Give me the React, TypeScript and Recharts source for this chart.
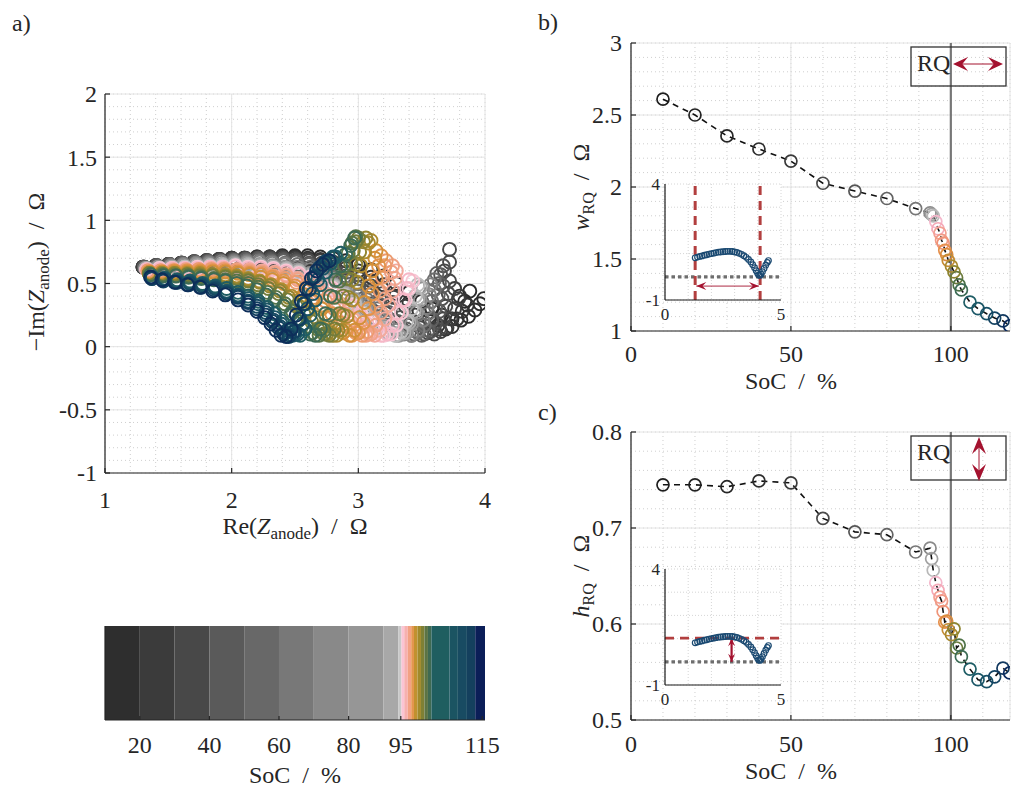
import React from "react";
import { ScatterChart, Scatter, BarChart, Bar, XAxis, YAxis, CartesianGrid, ReferenceLine } from "recharts";

const FONT = '"Liberation Serif", "Times New Roman", serif';
const AX = "#262626";
const CRIMSON = "#a4122f";

// ---------- a) Nyquist spectra, one list of [Re, -Im] per SoC ----------
const nyqSoc = [10, 20, 30, 40, 50, 60, 70, 80, 89, 93.5, 94, 95.3, 96, 97.1, 97.6, 98.1, 98.7, 99.2, 100.2, 101, 101.8, 102.6, 103.3, 106, 108.5, 111.2, 113.7, 118.4];
const nyq10 = [[1.30,0.63],[1.40,0.64],[1.50,0.65],[1.60,0.66],[1.70,0.67],[1.80,0.68],[1.90,0.69],[2.00,0.70],[2.10,0.70],[2.20,0.71],[2.30,0.71],[2.40,0.72],[2.50,0.72],[2.60,0.72],[2.70,0.71],[2.80,0.70],[2.90,0.68],[3.00,0.65],[3.10,0.61],[3.20,0.56],[3.30,0.50],[3.40,0.43],[3.50,0.36],[3.58,0.30],[3.66,0.25],[3.74,0.22],[3.81,0.21],[3.87,0.24],[3.92,0.29],[3.96,0.34],[3.99,0.38],[3.88,0.44],[3.84,0.36]];
const nyq20 = [[1.30,0.63],[1.40,0.64],[1.50,0.65],[1.60,0.66],[1.70,0.67],[1.80,0.68],[1.90,0.69],[2.00,0.70],[2.10,0.70],[2.20,0.71],[2.30,0.71],[2.40,0.71],[2.50,0.71],[2.60,0.70],[2.70,0.69],[2.80,0.67],[2.90,0.64],[3.00,0.60],[3.10,0.55],[3.20,0.49],[3.30,0.42],[3.40,0.35],[3.48,0.28],[3.56,0.22],[3.63,0.17],[3.69,0.14],[3.74,0.16],[3.78,0.22],[3.82,0.28],[3.86,0.33],[3.80,0.40]];
const nyq30 = [[1.30,0.63],[1.40,0.64],[1.50,0.65],[1.60,0.66],[1.70,0.67],[1.80,0.68],[1.90,0.69],[2.00,0.70],[2.10,0.70],[2.20,0.70],[2.30,0.71],[2.40,0.71],[2.50,0.70],[2.60,0.69],[2.70,0.68],[2.80,0.65],[2.90,0.62],[3.00,0.57],[3.10,0.52],[3.19,0.46],[3.28,0.39],[3.37,0.32],[3.45,0.25],[3.52,0.19],[3.59,0.14],[3.65,0.12],[3.70,0.15],[3.73,0.22],[3.76,0.30],[3.79,0.38],[3.76,0.46]];
const nyq40 = [[1.31,0.63],[1.41,0.64],[1.51,0.65],[1.61,0.66],[1.71,0.67],[1.81,0.68],[1.91,0.69],[2.01,0.69],[2.11,0.70],[2.21,0.70],[2.31,0.70],[2.41,0.70],[2.51,0.69],[2.61,0.68],[2.71,0.66],[2.81,0.63],[2.91,0.59],[3.01,0.54],[3.10,0.48],[3.19,0.42],[3.27,0.35],[3.35,0.28],[3.42,0.21],[3.49,0.15],[3.55,0.11],[3.60,0.10],[3.64,0.14],[3.67,0.22],[3.69,0.32],[3.71,0.42],[3.72,0.52],[3.68,0.60],[3.72,0.67],[3.72,0.77]];
const nyq50 = [[1.31,0.63],[1.41,0.64],[1.51,0.65],[1.61,0.66],[1.71,0.67],[1.81,0.68],[1.91,0.68],[2.01,0.69],[2.11,0.69],[2.21,0.70],[2.31,0.69],[2.41,0.69],[2.51,0.68],[2.61,0.66],[2.71,0.64],[2.81,0.60],[2.90,0.56],[3.00,0.50],[3.09,0.44],[3.17,0.37],[3.25,0.30],[3.33,0.23],[3.40,0.17],[3.46,0.12],[3.52,0.10],[3.57,0.12],[3.61,0.19],[3.64,0.28],[3.66,0.38],[3.67,0.48],[3.65,0.57],[3.67,0.64]];
const nyq60 = [[1.31,0.63],[1.41,0.64],[1.51,0.65],[1.61,0.66],[1.71,0.67],[1.81,0.67],[1.91,0.68],[2.01,0.68],[2.11,0.69],[2.21,0.69],[2.31,0.68],[2.41,0.68],[2.51,0.67],[2.61,0.65],[2.71,0.62],[2.81,0.58],[2.90,0.53],[2.99,0.47],[3.08,0.41],[3.16,0.34],[3.24,0.27],[3.31,0.20],[3.38,0.14],[3.44,0.10],[3.50,0.09],[3.55,0.13],[3.58,0.21],[3.61,0.31],[3.63,0.41],[3.64,0.50],[3.62,0.58]];
const nyq70 = [[1.32,0.62],[1.42,0.63],[1.52,0.64],[1.62,0.65],[1.72,0.66],[1.82,0.67],[1.92,0.67],[2.02,0.68],[2.12,0.68],[2.22,0.68],[2.32,0.67],[2.42,0.66],[2.52,0.65],[2.62,0.63],[2.72,0.60],[2.81,0.55],[2.90,0.50],[2.99,0.44],[3.07,0.37],[3.15,0.30],[3.23,0.23],[3.30,0.17],[3.36,0.12],[3.42,0.09],[3.47,0.11],[3.52,0.17],[3.55,0.26],[3.58,0.36],[3.60,0.45],[3.60,0.53]];
const nyq80 = [[1.32,0.62],[1.42,0.63],[1.52,0.64],[1.62,0.65],[1.72,0.66],[1.82,0.66],[1.92,0.67],[2.02,0.67],[2.12,0.67],[2.22,0.67],[2.32,0.66],[2.42,0.65],[2.52,0.63],[2.62,0.61],[2.72,0.57],[2.82,0.52],[2.91,0.46],[3.00,0.40],[3.08,0.33],[3.16,0.26],[3.23,0.19],[3.30,0.13],[3.36,0.10],[3.42,0.09],[3.47,0.13],[3.51,0.21],[3.54,0.31],[3.56,0.41],[3.57,0.49]];
const nyq89 = [[1.32,0.62],[1.42,0.63],[1.52,0.63],[1.62,0.64],[1.72,0.65],[1.82,0.65],[1.92,0.65],[2.02,0.66],[2.12,0.66],[2.22,0.65],[2.32,0.64],[2.42,0.63],[2.52,0.61],[2.62,0.58],[2.72,0.54],[2.81,0.49],[2.90,0.43],[2.98,0.37],[3.06,0.30],[3.13,0.23],[3.20,0.16],[3.26,0.11],[3.32,0.09],[3.38,0.11],[3.42,0.18],[3.46,0.27],[3.49,0.37],[3.51,0.46]];
const nyq93 = [[1.33,0.62],[1.43,0.62],[1.53,0.63],[1.63,0.63],[1.73,0.64],[1.83,0.64],[1.93,0.65],[2.03,0.65],[2.13,0.65],[2.23,0.64],[2.33,0.63],[2.43,0.62],[2.53,0.60],[2.63,0.57],[2.72,0.53],[2.81,0.48],[2.89,0.42],[2.97,0.36],[3.05,0.29],[3.12,0.22],[3.18,0.15],[3.24,0.11],[3.30,0.09],[3.36,0.11],[3.40,0.19],[3.44,0.28],[3.47,0.38],[3.49,0.47]];
const nyq94 = [[1.33,0.61],[1.43,0.62],[1.53,0.62],[1.63,0.63],[1.73,0.63],[1.83,0.64],[1.93,0.64],[2.03,0.64],[2.13,0.64],[2.23,0.63],[2.33,0.62],[2.43,0.61],[2.53,0.59],[2.63,0.56],[2.72,0.52],[2.81,0.47],[2.89,0.41],[2.97,0.34],[3.04,0.27],[3.11,0.20],[3.17,0.14],[3.23,0.10],[3.29,0.09],[3.34,0.12],[3.38,0.20],[3.42,0.30],[3.45,0.40],[3.47,0.49]];
const nyq95 = [[1.33,0.61],[1.43,0.62],[1.53,0.62],[1.63,0.62],[1.73,0.63],[1.83,0.63],[1.93,0.63],[2.03,0.64],[2.13,0.63],[2.23,0.63],[2.33,0.62],[2.43,0.60],[2.53,0.58],[2.62,0.55],[2.71,0.51],[2.80,0.46],[2.88,0.40],[2.95,0.33],[3.02,0.26],[3.09,0.19],[3.15,0.13],[3.20,0.09],[3.26,0.10],[3.30,0.17],[3.34,0.27],[3.37,0.37],[3.40,0.46],[3.43,0.52]];
const nyq96 = [[1.33,0.61],[1.43,0.61],[1.53,0.62],[1.63,0.62],[1.73,0.62],[1.83,0.63],[1.93,0.63],[2.03,0.63],[2.13,0.62],[2.23,0.62],[2.33,0.61],[2.43,0.59],[2.53,0.57],[2.62,0.54],[2.71,0.50],[2.79,0.45],[2.87,0.39],[2.94,0.32],[3.01,0.25],[3.07,0.18],[3.13,0.12],[3.18,0.09],[3.23,0.10],[3.27,0.17],[3.31,0.27],[3.35,0.37],[3.38,0.46],[3.40,0.53]];
const nyq97 = [[1.34,0.60],[1.44,0.60],[1.54,0.61],[1.64,0.61],[1.74,0.61],[1.84,0.62],[1.94,0.62],[2.04,0.61],[2.14,0.61],[2.24,0.60],[2.34,0.59],[2.43,0.57],[2.52,0.54],[2.61,0.51],[2.69,0.46],[2.77,0.41],[2.84,0.35],[2.91,0.28],[2.97,0.21],[3.03,0.15],[3.08,0.10],[3.13,0.09],[3.17,0.13],[3.21,0.22],[3.24,0.33],[3.27,0.44],[3.29,0.54],[3.30,0.60]];
const nyq97b = [[1.34,0.60],[1.44,0.60],[1.54,0.60],[1.64,0.61],[1.74,0.61],[1.84,0.61],[1.94,0.61],[2.04,0.61],[2.14,0.60],[2.24,0.59],[2.34,0.58],[2.43,0.56],[2.52,0.53],[2.60,0.49],[2.68,0.44],[2.76,0.39],[2.83,0.33],[2.89,0.26],[2.95,0.19],[3.01,0.13],[3.06,0.09],[3.10,0.10],[3.14,0.17],[3.18,0.27],[3.21,0.38],[3.24,0.49],[3.26,0.59],[3.27,0.64]];
const nyq98 = [[1.34,0.60],[1.44,0.60],[1.54,0.60],[1.64,0.60],[1.74,0.61],[1.84,0.61],[1.94,0.61],[2.04,0.60],[2.14,0.59],[2.24,0.58],[2.33,0.56],[2.42,0.54],[2.51,0.51],[2.59,0.47],[2.67,0.42],[2.74,0.36],[2.81,0.30],[2.87,0.23],[2.93,0.16],[2.98,0.11],[3.03,0.09],[3.07,0.12],[3.11,0.21],[3.14,0.32],[3.17,0.44],[3.19,0.55],[3.21,0.64],[3.22,0.68]];
const nyq98b = [[1.35,0.59],[1.45,0.59],[1.55,0.60],[1.65,0.60],[1.75,0.60],[1.85,0.60],[1.95,0.60],[2.05,0.59],[2.14,0.58],[2.23,0.57],[2.32,0.55],[2.41,0.52],[2.50,0.48],[2.58,0.44],[2.65,0.39],[2.72,0.33],[2.79,0.26],[2.85,0.19],[2.90,0.13],[2.95,0.09],[3.00,0.11],[3.04,0.19],[3.08,0.30],[3.11,0.42],[3.14,0.54],[3.16,0.64],[3.18,0.72]];
const nyq99 = [[1.35,0.59],[1.45,0.59],[1.55,0.59],[1.65,0.59],[1.75,0.59],[1.85,0.59],[1.95,0.59],[2.05,0.58],[2.14,0.57],[2.23,0.55],[2.32,0.53],[2.41,0.50],[2.49,0.46],[2.57,0.41],[2.64,0.36],[2.71,0.30],[2.77,0.23],[2.83,0.16],[2.88,0.11],[2.93,0.09],[2.97,0.13],[3.01,0.23],[3.05,0.35],[3.08,0.48],[3.11,0.60],[3.13,0.70],[3.14,0.76]];
const nyq100 = [[1.35,0.58],[1.45,0.58],[1.55,0.58],[1.65,0.58],[1.75,0.58],[1.85,0.57],[1.95,0.57],[2.04,0.56],[2.13,0.54],[2.22,0.52],[2.31,0.49],[2.39,0.45],[2.47,0.40],[2.54,0.35],[2.61,0.29],[2.67,0.23],[2.73,0.16],[2.78,0.11],[2.83,0.09],[2.87,0.13],[2.91,0.24],[2.95,0.37],[2.99,0.51],[3.02,0.64],[3.05,0.75],[3.08,0.82],[3.10,0.84]];
const nyq101 = [[1.35,0.58],[1.45,0.58],[1.55,0.58],[1.65,0.57],[1.75,0.57],[1.85,0.57],[1.95,0.56],[2.04,0.55],[2.13,0.53],[2.22,0.51],[2.30,0.48],[2.38,0.44],[2.45,0.39],[2.52,0.33],[2.59,0.27],[2.65,0.21],[2.70,0.15],[2.75,0.10],[2.80,0.09],[2.84,0.13],[2.88,0.25],[2.92,0.39],[2.95,0.53],[2.98,0.65],[3.01,0.75],[3.04,0.83],[3.06,0.86]];
const nyq101b = [[1.35,0.58],[1.45,0.57],[1.55,0.57],[1.65,0.57],[1.75,0.56],[1.85,0.56],[1.95,0.55],[2.04,0.54],[2.13,0.52],[2.21,0.49],[2.29,0.46],[2.37,0.42],[2.44,0.37],[2.51,0.32],[2.57,0.26],[2.63,0.20],[2.68,0.14],[2.73,0.10],[2.77,0.09],[2.81,0.14],[2.85,0.26],[2.88,0.40],[2.91,0.54],[2.94,0.66],[2.96,0.76],[2.98,0.83],[3.00,0.86]];
const nyq102 = [[1.36,0.57],[1.46,0.57],[1.56,0.56],[1.66,0.56],[1.76,0.55],[1.86,0.54],[1.95,0.53],[2.04,0.52],[2.13,0.50],[2.21,0.47],[2.28,0.43],[2.35,0.39],[2.42,0.34],[2.48,0.28],[2.54,0.22],[2.59,0.16],[2.64,0.11],[2.69,0.09],[2.73,0.13],[2.77,0.25],[2.81,0.39],[2.85,0.52],[2.89,0.64],[2.92,0.74],[2.95,0.82],[2.98,0.87]];
const nyq103 = [[1.36,0.57],[1.46,0.56],[1.56,0.56],[1.66,0.55],[1.76,0.54],[1.86,0.53],[1.95,0.52],[2.04,0.50],[2.12,0.48],[2.20,0.45],[2.27,0.41],[2.34,0.37],[2.41,0.32],[2.47,0.26],[2.52,0.20],[2.57,0.14],[2.62,0.10],[2.66,0.09],[2.70,0.14],[2.74,0.26],[2.78,0.40],[2.82,0.53],[2.86,0.64],[2.90,0.73],[2.94,0.80],[2.97,0.86]];
const nyq106 = [[1.37,0.55],[1.47,0.54],[1.57,0.53],[1.67,0.52],[1.77,0.50],[1.87,0.48],[1.96,0.46],[2.05,0.43],[2.13,0.40],[2.21,0.36],[2.28,0.31],[2.34,0.26],[2.40,0.20],[2.45,0.14],[2.50,0.10],[2.54,0.09],[2.58,0.14],[2.62,0.25],[2.66,0.37],[2.70,0.49],[2.74,0.59],[2.78,0.66],[2.82,0.71],[2.86,0.74]];
const nyq108 = [[1.37,0.55],[1.47,0.54],[1.57,0.52],[1.67,0.51],[1.77,0.49],[1.87,0.47],[1.96,0.44],[2.05,0.41],[2.13,0.38],[2.21,0.34],[2.28,0.29],[2.34,0.23],[2.39,0.18],[2.44,0.13],[2.48,0.09],[2.52,0.10],[2.56,0.18],[2.60,0.30],[2.64,0.42],[2.68,0.53],[2.72,0.62],[2.76,0.68],[2.80,0.71]];
const nyq111 = [[1.37,0.54],[1.47,0.53],[1.57,0.51],[1.67,0.50],[1.77,0.48],[1.87,0.46],[1.96,0.43],[2.05,0.40],[2.13,0.36],[2.20,0.32],[2.27,0.27],[2.33,0.21],[2.38,0.16],[2.42,0.11],[2.46,0.09],[2.50,0.12],[2.54,0.22],[2.58,0.34],[2.62,0.46],[2.66,0.56],[2.70,0.63],[2.74,0.67]];
const nyq113 = [[1.37,0.54],[1.46,0.52],[1.56,0.51],[1.66,0.49],[1.76,0.47],[1.86,0.45],[1.96,0.42],[2.05,0.39],[2.13,0.35],[2.20,0.30],[2.27,0.25],[2.32,0.20],[2.37,0.15],[2.41,0.10],[2.45,0.08],[2.49,0.12],[2.53,0.22],[2.57,0.34],[2.61,0.45],[2.65,0.55],[2.69,0.62],[2.74,0.67]];
const nyq118 = [[1.36,0.55],[1.45,0.53],[1.55,0.51],[1.65,0.49],[1.75,0.47],[1.85,0.44],[1.95,0.41],[2.05,0.37],[2.13,0.33],[2.20,0.28],[2.26,0.23],[2.31,0.18],[2.35,0.13],[2.39,0.09],[2.43,0.08],[2.47,0.14],[2.51,0.25],[2.55,0.36],[2.59,0.46],[2.63,0.54],[2.67,0.60],[2.72,0.65],[2.77,0.68]];
const nyqCurves = [nyq10, nyq20, nyq30, nyq40, nyq50, nyq60, nyq70, nyq80, nyq89, nyq93, nyq94, nyq95, nyq96, nyq97, nyq97b, nyq98, nyq98b, nyq99, nyq100, nyq101, nyq101b, nyq102, nyq103, nyq106, nyq108, nyq111, nyq113, nyq118];
const nyqColors = ["#2b2b2b","#333333","#3d3d3d","#474747","#525252","#5e5e5e","#6e6e6e","#808080","#939393","#a8a8a8","#bcbcbc","#f8c8d6","#f6b7c6","#f3a99c","#f0a286","#ec9b70","#e2944c","#d39038","#ae8b2e","#938530","#747c3a","#567448","#3d6b55","#1f5d63","#1b5566","#174b63","#12405f","#0d2e5a"];

// ---------- b) / c) RQ width and height over SoC ----------
const socValues = [10,20,30,40,50,60,70,80,89,93.5,94,94.5,95.3,96,96.6,97.1,97.6,98.1,98.7,99.2,100.2,101,101.8,102.6,103.3,106,108.5,111.2,113.7,116.3,118.4];
const wValues = [2.61,2.50,2.355,2.264,2.18,2.026,1.972,1.92,1.85,1.82,1.81,1.80,1.76,1.71,1.68,1.63,1.61,1.56,1.53,1.49,1.45,1.41,1.37,1.32,1.285,1.20,1.155,1.12,1.09,1.07,1.035];
const hValues = [0.745,0.745,0.743,0.749,0.747,0.710,0.696,0.693,0.675,0.679,0.668,0.656,0.643,0.635,0.628,0.624,0.613,0.602,0.603,0.594,0.589,0.595,0.575,0.578,0.566,0.553,0.542,0.540,0.545,0.554,0.549];
const markerColors = ["#1e1e1e","#222222","#262626","#2e2e2e","#3a3a3a","#4a4a4a","#555555","#636363","#777777","#8a8a8a","#a0a0a0","#b8b8b8","#f5b8cc","#f5aab8","#f3a193","#f19a86","#ef9478","#e6904c","#d98c3e","#c58c33","#a8892f","#8d8430","#6b7a3c","#4e7248","#3c6b55","#1f5e66","#1b5767","#175066","#134362","#10375e","#0b2a5e"];

// ---------- insets: one example spectrum ----------
const insetSpectrum = [[1.30,0.82],[1.40,0.85],[1.50,0.88],[1.60,0.90],[1.70,0.93],[1.80,0.95],[1.90,0.98],[2.00,1.00],[2.10,1.02],[2.20,1.04],[2.30,1.06],[2.40,1.07],[2.50,1.08],[2.60,1.09],[2.70,1.10],[2.80,1.10],[2.90,1.09],[3.00,1.07],[3.10,1.05],[3.20,1.01],[3.30,0.97],[3.40,0.91],[3.50,0.84],[3.60,0.75],[3.70,0.64],[3.78,0.52],[3.86,0.39],[3.93,0.26],[3.99,0.15],[4.04,0.08],[4.09,0.06],[4.14,0.11],[4.20,0.22],[4.27,0.36],[4.34,0.50],[4.41,0.62],[4.46,0.70]];
const insetWidthBounds = [1.3, 4.1];
const insetHeightLevel = 1.02;
const insetPeakRe = 2.87;

// ---------- colour bar ----------
const cbEdges = [10,20,30,40,50,60,70,80,90,94.3,95.2,96,97,98,98.8,99.8,100.8,101.8,102.8,103.8,109,111.4,114,116.4,119.2];
const cbColors = ["#2e2e2e","#3b3b3b","#484848","#5a5a5a","#686868","#787878","#898989","#969696","#a8a8a8","#c8c8c8","#fbc4d4","#f6b0b0","#f2a183","#e3964e","#c1912f","#a08a2c","#7f8034","#5c7444","#3f6a52","#1f5e60","#1b5462","#184b62","#14405e","#0b1e58"];
const cbTicks = [20, 40, 60, 80, 95, 118.4];
const cbTickLabels = ["20", "40", "60", "80", "95", "115"];

const axLine = { stroke: AX, strokeWidth: 1.2 };
const pairs = (a: number[][]) => a.map(([x, y]) => ({ x, y }));
const range = (a: number, b: number, s: number) => {
  const out: number[] = [];
  for (let v = a; v <= b + 1e-9; v += s) out.push(Math.round(v * 1000) / 1000);
  return out;
};

// tick label renderer (serif, fixed size)
const mkTick = (size: number, dy: string, fmt?: (v: number, i: number) => string) => (p: any) => (
  <text x={p.x} y={p.y} dy={dy} textAnchor={p.textAnchor} fontFamily={FONT} fontSize={size} fill={AX}>
    {fmt ? fmt(p.payload.value, p.index) : String(p.payload.value)}
  </text>
);
const blank = () => <g />;

function frame(o: { xd: number[]; yd: number[]; xt: number[]; yt: number[]; xm: number[]; ym: number[]; xh: number; yw: number; xMargin: number; yMargin: number }) {
  return [
    <CartesianGrid key="gm" xAxisId="xm" yAxisId="ym" stroke="#cfcfcf" strokeDasharray="1 3" />,
    <CartesianGrid key="g" xAxisId="x" yAxisId="y" stroke="#e4e4e4" />,
    <XAxis key="xm" xAxisId="xm" type="number" dataKey="x" domain={o.xd} ticks={o.xm} interval={0} allowDataOverflow hide />,
    <YAxis key="ym" yAxisId="ym" type="number" dataKey="y" domain={o.yd} ticks={o.ym} interval={0} allowDataOverflow hide />,
    <XAxis key="x" xAxisId="x" type="number" dataKey="x" domain={o.xd} ticks={o.xt} interval={0} allowDataOverflow height={o.xh} tickSize={-5} tickMargin={o.xMargin} axisLine={axLine} tickLine={axLine} tick={mkTick(24, "0.71em")} />,
    <XAxis key="xt" xAxisId="xt" orientation="top" type="number" domain={o.xd} ticks={o.xt} interval={0} allowDataOverflow height={0} tickSize={-5} axisLine={axLine} tickLine={axLine} tick={blank} />,
    <YAxis key="y" yAxisId="y" type="number" dataKey="y" domain={o.yd} ticks={o.yt} interval={0} allowDataOverflow width={o.yw} tickSize={-5} tickMargin={o.yMargin} axisLine={axLine} tickLine={axLine} tick={mkTick(24, "0.35em")} />,
    <YAxis key="yr" yAxisId="yr" orientation="right" type="number" domain={o.yd} ticks={o.yt} interval={0} allowDataOverflow width={0} tickSize={-5} axisLine={axLine} tickLine={axLine} tick={blank} />,
  ];
}

const ring = (color: string, r: number, sw: number) => (p: any) =>
  <circle cx={p.cx} cy={p.cy} r={r} fill="none" stroke={color} strokeWidth={sw} />;

const head = (tx: number, ty: number, ux: number, uy: number, L: number, Wd: number) => {
  const px = -uy, py = ux;
  const bx = tx - ux * L, by = ty - uy * L;
  const nx = tx - ux * L * 0.62, ny = ty - uy * L * 0.62;
  return `${tx},${ty} ${bx + px * Wd},${by + py * Wd} ${nx},${ny} ${bx - px * Wd},${by - py * Wd}`;
};

const arrowShape = (sw: number, L: number, Wd: number) => (p: any) => {
  const { x1, y1, x2, y2 } = p;
  const len = Math.hypot(x2 - x1, y2 - y1) || 1;
  const ux = (x2 - x1) / len, uy = (y2 - y1) / len;
  return (
    <g>
      <line x1={x1} y1={y1} x2={x2} y2={y2} stroke={CRIMSON} strokeWidth={sw} />
      <polygon points={head(x2, y2, ux, uy, L, Wd)} fill={CRIMSON} />
      <polygon points={head(x1, y1, -ux, -uy, L, Wd)} fill={CRIMSON} />
    </g>
  );
};

function Nyquist() {
  return (
    <ScatterChart width={500} height={480} margin={{ top: 34, right: 15, bottom: 0, left: 0 }}>
      {frame({ xd: [1, 4], yd: [-1, 2], xt: [1, 2, 3, 4], yt: [-1, -0.5, 0, 0.5, 1, 1.5, 2], xm: range(1, 4, 0.2), ym: range(-1, 2, 0.1), xh: 67, yw: 105, xMargin: 23, yMargin: 13 })}
      {nyqCurves.map((c, k) => (
        <Scatter key={nyqSoc[k]} xAxisId="x" yAxisId="y" data={pairs(c)} isAnimationActive={false} shape={ring(nyqColors[k], 6.5, 1.9)} />
      ))}
    </ScatterChart>
  );
}

function SocPanel({ values, yd, yt, ym, top, xMargin }: { values: number[]; yd: number[]; yt: number[]; ym: number[]; top: number; xMargin: number }) {
  const data = socValues.map((s, i) => ({ x: s, y: values[i], i }));
  return (
    <ScatterChart width={480} height={360} margin={{ top, right: 10, bottom: 0, left: 0 }}>
      {frame({ xd: [0, 118.5], yd, xt: [0, 50, 100], yt, xm: range(0, 110, 10), ym, xh: 360 - top - 288, yw: 91, xMargin, yMargin: 14 })}
      <ReferenceLine xAxisId="x" yAxisId="y" x={100} stroke="#777777" strokeWidth={2.2} />
      <Scatter xAxisId="x" yAxisId="y" data={data} isAnimationActive={false}
        line={{ stroke: "#111111", strokeWidth: 1.6, strokeDasharray: "6 5" }}
        shape={(p: any) => <circle cx={p.cx} cy={p.cy} r={6} fill="none" stroke={markerColors[p.payload.i]} strokeWidth={1.7} />} />
    </ScatterChart>
  );
}

function Inset({ mode }: { mode: "w" | "h" }) {
  const show = (keep: number[]) => (v: number) => (keep.includes(v) ? String(v) : "");
  return (
    <ScatterChart width={150} height={150} margin={{ top: 9, right: 9, bottom: 0, left: 0 }}>
      <CartesianGrid xAxisId="x" yAxisId="y" fill="#ffffff" fillOpacity={1} stroke="#d6d6d6" strokeDasharray="1 2" />
      <XAxis xAxisId="x" type="number" dataKey="x" domain={[0, 5]} ticks={[0, 1, 2, 3, 4, 5]} interval={0} height={25} tickSize={0} tickMargin={8} axisLine={{ stroke: "#1a1a1a", strokeWidth: 1.2 }} tickLine={false} tick={mkTick(17, "0.71em", show([0, 5]))} />
      <XAxis xAxisId="xt" orientation="top" type="number" domain={[0, 5]} height={0} axisLine={{ stroke: "#cfcfcf" }} tickLine={false} tick={blank} />
      <YAxis yAxisId="y" type="number" dataKey="y" domain={[-1, 4]} ticks={[-1, 0, 1, 2, 3, 4]} interval={0} width={25} tickSize={0} tickMargin={5} axisLine={{ stroke: "#1a1a1a", strokeWidth: 1.2 }} tickLine={false} tick={mkTick(17, "0.35em", show([-1, 4]))} />
      <YAxis yAxisId="yr" orientation="right" type="number" domain={[-1, 4]} width={0} axisLine={{ stroke: "#cfcfcf" }} tickLine={false} tick={blank} />
      <ReferenceLine xAxisId="x" yAxisId="y" y={0} stroke="#6e6e6e" strokeWidth={3.2} strokeDasharray="3.5 3" />
      {mode === "w" && insetWidthBounds.map((b) => (
        <ReferenceLine key={b} xAxisId="x" yAxisId="y" x={b} stroke="#b23f3f" strokeWidth={3} strokeDasharray="9 6" />
      ))}
      {mode === "h" && (
        <ReferenceLine xAxisId="x" yAxisId="y" y={insetHeightLevel} stroke="#b23f3f" strokeWidth={2.6} strokeDasharray="9 6" />
      )}
      <Scatter xAxisId="x" yAxisId="y" data={pairs(insetSpectrum)} isAnimationActive={false} shape={ring("#1b4a72", 2.8, 1.2)} />
      {mode === "w" && (
        <ReferenceLine xAxisId="x" yAxisId="y" segment={[{ x: insetWidthBounds[0] + 0.05, y: -0.4 }, { x: insetWidthBounds[1] - 0.05, y: -0.4 }]} shape={arrowShape(0.9, 10, 4)} />
      )}
      {mode === "h" && (
        <ReferenceLine xAxisId="x" yAxisId="y" segment={[{ x: insetPeakRe, y: 0 }, { x: insetPeakRe, y: insetHeightLevel }]} shape={arrowShape(2.2, 8, 3.5)} />
      )}
    </ScatterChart>
  );
}

function ColorBar() {
  // one stacked row; each segment spans one colour band of the SoC scale
  const row: Record<string, number | string> = { name: "SoC" };
  cbColors.forEach((_, i) => { row[`b${i}`] = cbEdges[i + 1] - (i === 0 ? 0 : cbEdges[i]); });
  return (
    <BarChart layout="vertical" width={500} height={187} data={[row]} barCategoryGap={0} margin={{ top: 26, right: 15, bottom: 0, left: 0 }}>
      <XAxis xAxisId="x" type="number" domain={[10, 119.2]} ticks={cbTicks} interval={0} allowDataOverflow height={67} tickSize={-4} tickMargin={20} axisLine={axLine} tickLine={axLine} tick={mkTick(24, "0.71em", (_v, i) => cbTickLabels[i])} />
      <XAxis xAxisId="xt" orientation="top" type="number" domain={[10, 119.2]} allowDataOverflow height={0} axisLine={axLine} tickLine={false} tick={blank} />
      <YAxis yAxisId="y" type="category" dataKey="name" width={105} axisLine={axLine} tickLine={false} tick={blank} />
      <YAxis yAxisId="yr" orientation="right" type="category" dataKey="name" width={0} axisLine={axLine} tickLine={false} tick={blank} />
      {cbColors.map((c, i) => (
        <Bar key={i} xAxisId="x" yAxisId="y" dataKey={`b${i}`} stackId="cb" fill={c} isAnimationActive={false} />
      ))}
    </BarChart>
  );
}

function Overlay() {
  const sp = "\u2002/\u2002";
  return (
    <svg width={1013} height={787} style={{ position: "absolute", left: 0, top: 0, pointerEvents: "none" }}>
      <g fontFamily={FONT} fill={AX} fontSize={24}>
        <text x={12} y={31}>a)</text>
        <text x={538} y={30}>b)</text>
        <text x={538} y={420}>c)</text>
        <text x={295} y={534} textAnchor="middle">Re(<tspan fontStyle="italic">Z</tspan><tspan dy={5} fontSize={17}>anode</tspan><tspan dy={-5}>){sp}Ω</tspan></text>
        <text x={44} y={272} textAnchor="middle" transform="rotate(-90 44 272)">−Im(<tspan fontStyle="italic">Z</tspan><tspan dy={5} fontSize={17}>anode</tspan><tspan dy={-5}>){sp}Ω</tspan></text>
        <text x={791} y={389} textAnchor="middle">SoC{sp}%</text>
        <text x={791} y={779} textAnchor="middle">SoC{sp}%</text>
        <text x={295} y={783} textAnchor="middle">SoC{sp}%</text>
        <text x={589} y={187} textAnchor="middle" transform="rotate(-90 589 187)"><tspan fontStyle="italic">w</tspan><tspan dy={5} fontSize={16}>RQ</tspan><tspan dy={-5}>{sp}Ω</tspan></text>
        <text x={589} y={576} textAnchor="middle" transform="rotate(-90 589 576)"><tspan fontStyle="italic">h</tspan><tspan dy={5} fontSize={16}>RQ</tspan><tspan dy={-5}>{sp}Ω</tspan></text>
        <text x={917} y={71}>RQ</text>
        <text x={917} y={460}>RQ</text>
      </g>
      <rect x={911} y={47} width={95} height={39} fill="none" stroke="#333333" strokeWidth={1.3} />
      <rect x={911} y={436} width={95} height={44} fill="none" stroke="#333333" strokeWidth={1.3} />
      <line x1={960} y1={64} x2={996} y2={64} stroke={CRIMSON} strokeWidth={1} />
      <polygon points={head(953, 64, -1, 0, 15, 7)} fill={CRIMSON} />
      <polygon points={head(1003, 64, 1, 0, 15, 7)} fill={CRIMSON} />
      <line x1={979} y1={445} x2={979} y2={473} stroke={CRIMSON} strokeWidth={1} />
      <polygon points={head(979, 437, 0, -1, 17, 7)} fill={CRIMSON} />
      <polygon points={head(979, 481, 0, 1, 17, 7)} fill={CRIMSON} />
    </svg>
  );
}

export default function App() {
  const abs = (left: number, top: number): React.CSSProperties => ({ position: "absolute", left, top });
  return (
    <div style={{ position: "absolute", left: 0, top: 0, width: 1013, height: 787, background: "#ffffff", overflow: "hidden", fontFamily: FONT }}>
      <div style={abs(0, 60)}><Nyquist /></div>
      <div style={abs(540, 20)}>
        <SocPanel values={wValues} yd={[1, 3]} yt={[1, 1.5, 2, 2.5, 3]} ym={range(1, 3, 0.1)} top={23} xMargin={19} />
      </div>
      <div style={abs(540, 410)}>
        <SocPanel values={hValues} yd={[0.5, 0.8]} yt={[0.5, 0.6, 0.7, 0.8]} ym={range(0.5, 0.8, 0.02)} top={22} xMargin={20} />
      </div>
      <div style={abs(640, 175)}><Inset mode="w" /></div>
      <div style={abs(640, 560)}><Inset mode="h" /></div>
      <div style={abs(0, 600)}><ColorBar /></div>
      <Overlay />
    </div>
  );
}
